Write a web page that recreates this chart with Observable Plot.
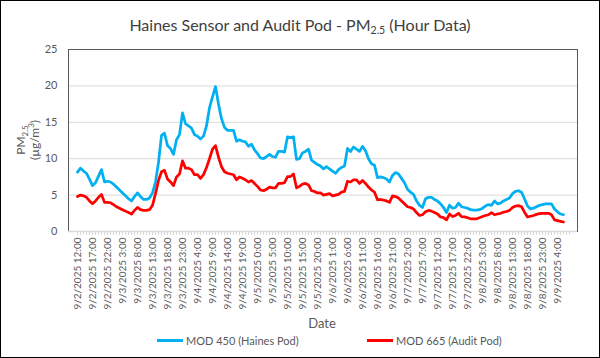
<!DOCTYPE html>
<html>
<head>
<meta charset="utf-8">
<script src="https://cdn.jsdelivr.net/npm/d3@7"></script>
<script src="https://cdn.jsdelivr.net/npm/@observablehq/plot@0.6"></script>
<style>
  body { margin: 0; background: #fff; }
  #chart { width: 600px; height: 358px; box-sizing: border-box; border: 1px solid #000;
           font-family: Lato, "Liberation Sans", sans-serif; color: #595959; overflow: hidden; background:#fff; }
  #title { height: 37px; text-align: center; font-size: 16px; line-height: 48px; color: #404040; white-space: nowrap; }
  #title sub { font-size: 10.5px; vertical-align: -3px; line-height: 0; }
  #plot svg { display: block; }
  #legend { position: relative; height: 26px; font-size: 11px; color: #595959; }
  .item { position: absolute; top: 3px; display: flex; align-items: center; white-space: nowrap; }
  .sw { width: 26px; height: 3px; margin-right: 3px; }
</style>
</head>
<body>
<div id="chart">
  <div id="title">Haines Sensor and Audit Pod - PM<sub>2.5</sub> (Hour Data)</div>
  <div id="plot"></div>
  <div id="legend"></div>
</div>
<script>
// ---- data ----
const startTime = "2025-09-02T12:00:00";   // first hourly category
const categoryCount = 165;                  // hourly categories on the axis
const seriesNames = ["MOD 450 (Haines Pod)", "MOD 665 (Audit Pod)"];
const seriesColors = ["#00B0F0", "#FF0000"];
const yTicks = [0, 5, 10, 15, 20, 25];

const mod450 = [
  8.15, 8.7, 8.3, 8.0, 7.2, 6.3, 6.7, 7.6, 8.5, 6.8,
  6.9, 6.8, 6.5, 6.1, 5.7, 5.3, 4.9, 4.5, 4.2, 4.8,
  5.3, 4.8, 4.4, 4.4, 4.6, 5.3, 6.8, 9.5, 13.2, 13.5,
  11.8, 11.4, 10.6, 12.6, 13.3, 16.3, 14.8, 14.5, 14.2, 13.3,
  13.1, 12.7, 13.1, 14.5, 17.0, 18.5, 19.9, 17.5, 15.5, 14.3,
  13.9, 13.9, 13.9, 12.4, 12.6, 12.4, 12.3, 11.7, 12.0, 11.2,
  10.7, 10.1, 10.0, 10.3, 10.6, 10.3, 10.2, 11.0, 11.0, 10.9,
  13.0, 12.9, 13.0, 9.9, 10.0, 10.8, 11.0, 11.3, 9.8, 9.5,
  9.2, 9.0, 8.6, 8.9, 8.6, 8.3, 8.0, 8.5, 8.8, 9.0,
  11.4, 11.0, 11.6, 11.3, 11.0, 11.7, 11.1, 10.0, 9.3, 9.1,
  7.4, 7.5, 7.4, 7.2, 6.8, 7.7, 8.1, 7.9, 7.3, 6.7,
  5.8, 5.4, 5.1, 4.2, 3.6, 3.3, 4.5, 4.7, 4.7, 4.4,
  4.2, 3.8, 3.3, 2.6, 3.6, 3.2, 3.3, 3.9, 3.4, 3.3,
  3.2, 3.0, 2.95, 2.95, 3.0, 3.2, 3.5, 3.7, 3.6, 4.2,
  3.8, 3.9, 4.2, 4.4, 4.6, 5.2, 5.5, 5.6, 5.4, 4.5,
  3.5, 3.1, 3.2, 3.4, 3.6, 3.7, 3.8, 3.8, 3.8, 3.1,
  2.7, 2.4, 2.3
];
const mod665 = [
  4.8, 5.0, 4.9, 4.7, 4.2, 3.8, 4.2, 4.7, 5.1, 4.0,
  4.0, 3.95, 3.7, 3.4, 3.2, 3.0, 2.8, 2.6, 2.4, 2.9,
  3.3, 3.0, 2.9, 2.9, 3.0, 3.6, 5.2, 7.0, 8.2, 8.4,
  7.2, 6.8, 6.3, 7.5, 7.9, 9.7, 8.7, 8.7, 8.5, 7.8,
  7.8, 7.3, 7.8, 8.8, 10.0, 11.3, 11.8, 10.2, 8.9, 8.2,
  8.0, 7.9, 7.8, 7.1, 7.5, 7.3, 7.1, 6.8, 7.0, 6.6,
  6.2, 5.7, 5.6, 5.8, 6.1, 6.0, 6.0, 6.6, 6.6, 6.7,
  7.55, 7.55, 7.9, 6.0, 6.2, 6.5, 6.6, 6.4, 5.6, 5.5,
  5.3, 5.3, 5.0, 5.1, 5.2, 4.9, 5.0, 5.1, 5.4, 5.5,
  6.9, 6.8, 7.1, 7.1, 6.6, 7.0, 6.6, 6.1, 5.7, 5.4,
  4.35, 4.4, 4.3, 4.2, 4.0, 4.9, 4.8, 4.6, 4.2, 3.8,
  3.4, 3.3, 3.1, 2.6, 2.2, 2.3, 2.7, 2.9, 2.8, 2.6,
  2.4, 2.0, 1.9, 1.6, 2.4, 2.05, 2.2, 2.5, 2.05, 2.0,
  1.9, 1.75, 1.75, 1.75, 1.9, 2.05, 2.2, 2.3, 2.6, 2.3,
  2.4, 2.5, 2.65, 2.75, 2.9, 3.3, 3.5, 3.55, 3.4, 2.65,
  2.0, 2.1, 2.2, 2.35, 2.45, 2.5, 2.5, 2.5, 2.3, 1.6,
  1.5, 1.4, 1.3
];

// ---- categories (hourly labels) ----
const t0 = new Date(startTime);
const fmt = d => `${d.getMonth() + 1}/${d.getDate()}/${d.getFullYear()} ${d.getHours()}:${String(d.getMinutes()).padStart(2, "0")}`;
const categories = d3.range(categoryCount).map(i => fmt(d3.timeHour.offset(t0, i)));
const labeled = categories.filter((_, i) => i % 5 === 0);

const rows = [];
[mod450, mod665].forEach((vals, s) => vals.forEach((v, i) => rows.push({x: categories[i], y: v, series: seriesNames[s]})));

const font = 'Lato, "Liberation Sans", sans-serif';
const plot = Plot.plot({
  width: 598, height: 293,
  marginLeft: 67, marginRight: 22, marginTop: 11, marginBottom: 100,
  style: {fontFamily: font, fontSize: "10px", color: "#595959", background: "transparent", overflow: "visible"},
  x: {type: "point", domain: categories, padding: 0.5, axis: null},
  y: {domain: [0, 25], axis: null},
  color: {domain: seriesNames, range: seriesColors},
  marks: [
    Plot.ruleY([5, 10, 15, 20], {stroke: "#d9d9d9", strokeWidth: 1}),
    Plot.frame({stroke: "#595959", strokeWidth: 1}),
    Plot.ruleY([0], {stroke: "#d9d9d9", strokeWidth: 1.5}),
    Plot.axisX({ticks: categories, tickSize: 4, text: null, stroke: "#d9d9d9", label: null}),
    Plot.axisX({ticks: labeled, tickSize: 0, tickPadding: 6, tickRotate: -90, fontSize: 10, fill: "#595959", label: null}),
    Plot.axisY({ticks: yTicks, tickSize: 0, tickPadding: 11, fontSize: 11, fill: "#595959", label: null}),
    Plot.lineY(rows, {x: "x", y: "y", z: "series", stroke: "series", strokeWidth: 2.75, strokeLinejoin: "round", strokeLinecap: "round"})
  ]
});
document.getElementById("plot").appendChild(plot);

// y-axis title with subscript / superscript
const svg = d3.select(plot);
const g = svg.append("g").attr("font-family", font).attr("font-size", 12).attr("fill", "#595959").attr("text-anchor", "middle");
const t1 = g.append("text").attr("transform", "translate(24,102) rotate(-90)");
t1.append("tspan").text("PM");
t1.append("tspan").attr("font-size", 8).attr("dy", 3).text("2.5");
const t2 = g.append("text").attr("transform", "translate(38,102) rotate(-90)");
t2.append("tspan").text("(µg/m");
t2.append("tspan").attr("font-size", 8).attr("dy", -5).text("3");
t2.append("tspan").attr("dy", 5).text(")");
// x-axis title
g.append("text").attr("x", 321).attr("y", 290).attr("font-size", 13).text("Date");

// legend
const legend = d3.select("#legend");
const lefts = [156, 366];
seriesNames.forEach((name, i) => {
  const it = legend.append("div").attr("class", "item").style("left", lefts[i] + "px");
  it.append("div").attr("class", "sw").style("background", seriesColors[i]);
  it.append("span").text(name);
});
</script>
</body>
</html>
